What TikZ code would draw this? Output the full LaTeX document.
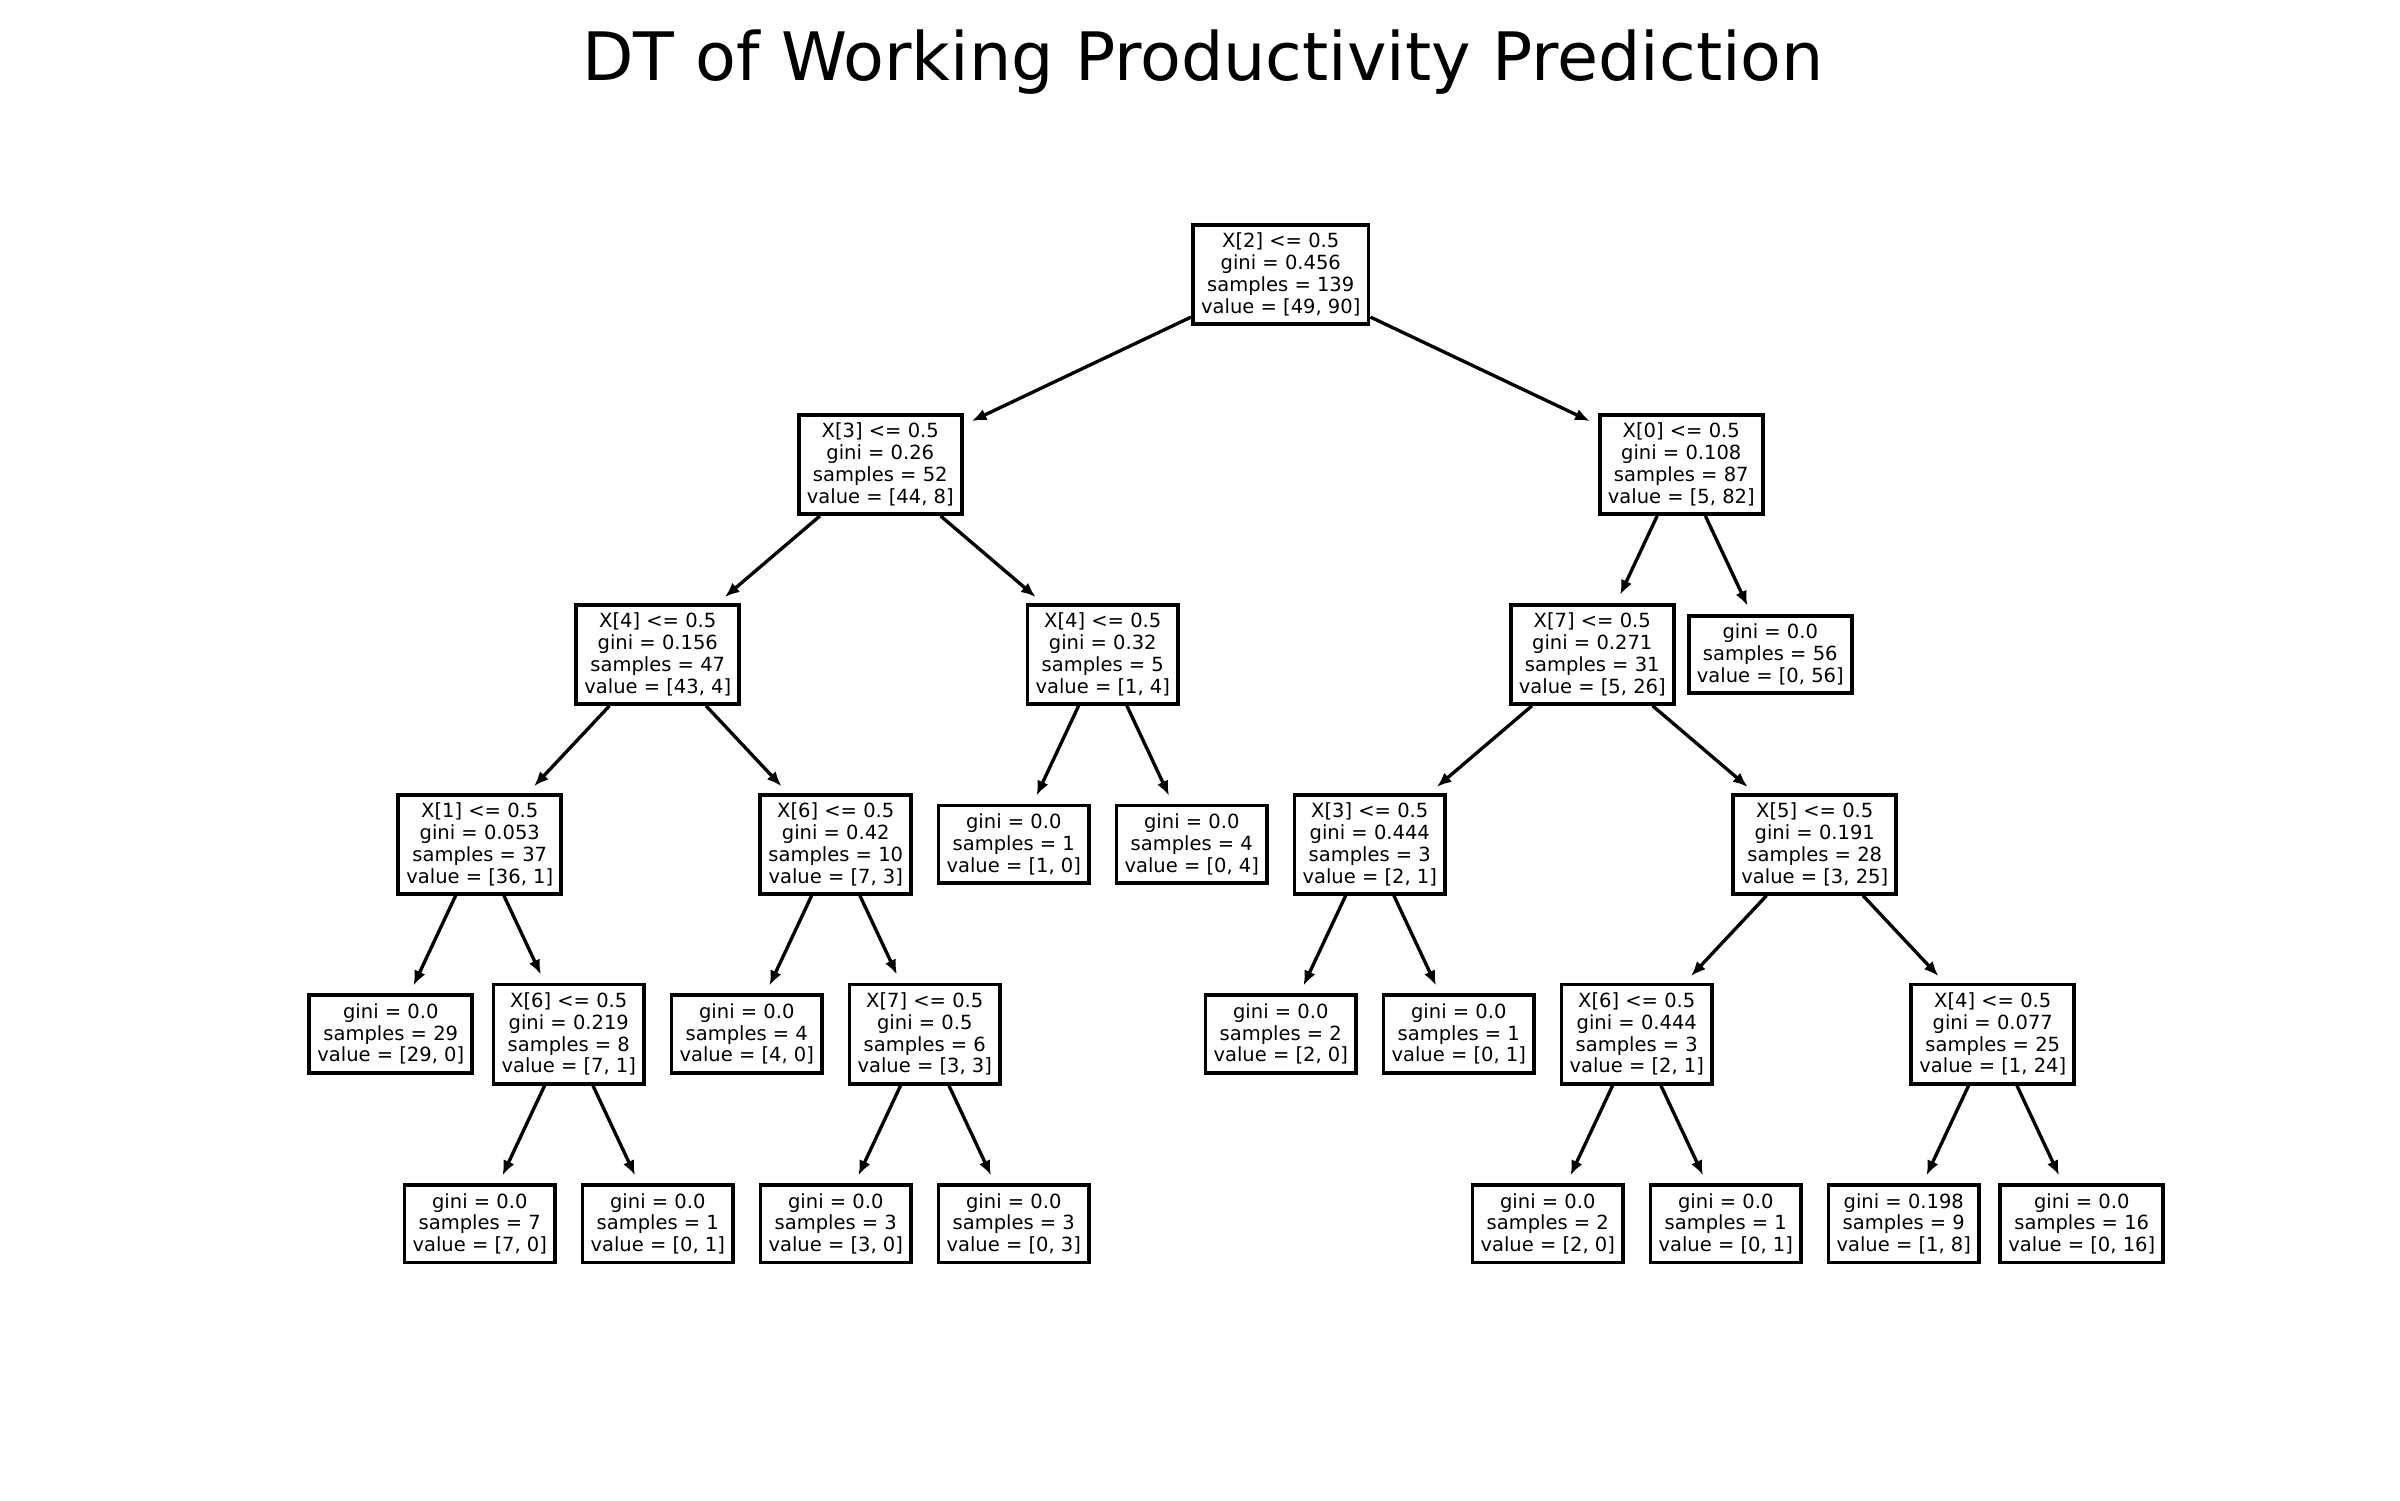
\documentclass[tikz,border=0pt]{standalone}
\usepackage{fontspec}
\setmainfont{DejaVu Sans}
\usetikzlibrary{arrows.meta}
\tikzset{
x=0.89cm, y=-1.8985cm, % one x step is a grid slot, one y step is a tree level
dtnode/.style={draw, line width=1.1pt, fill=white, align=center, inner sep=2.3pt,
  font=\fontsize{5.55}{6.22}\selectfont}, % every box of the tree
link/.style={-{Latex[length=4.2pt,width=3.4pt]}, line width=0.95pt, shorten >=2.5pt}, % parent to child
}

\begin{document}
\begin{tikzpicture}
                \useasboundingbox (-4.3907,-1.4465) rectangle (22.576,6.4546);
                \node[anchor=base, font=\fontsize{19}{22}\selectfont] (title) at (9.127,-1.025) {DT of Working Productivity Prediction};
                % level 0 and 1
                \node[dtnode] (n0) at (10,0) {X[2] <= 0.5\\gini = 0.456\\samples = 139\\value = [49, 90]};
                \node[dtnode] (n1) at (5.5,1) {X[3] <= 0.5\\gini = 0.26\\samples = 52\\value = [44, 8]};
                \node[dtnode] (n16) at (14.5,1) {X[0] <= 0.5\\gini = 0.108\\samples = 87\\value = [5, 82]};
                % level 2
                \node[dtnode] (n2) at (3,2) {X[4] <= 0.5\\gini = 0.156\\samples = 47\\value = [43, 4]};
                \node[dtnode] (n13) at (8,2) {X[4] <= 0.5\\gini = 0.32\\samples = 5\\value = [1, 4]};
                \node[dtnode] (n17) at (13.5,2) {X[7] <= 0.5\\gini = 0.271\\samples = 31\\value = [5, 26]};
                \node[dtnode] (n28) at (15.5,2) {gini = 0.0\\samples = 56\\value = [0, 56]};
                % level 3
                \node[dtnode] (n3) at (1,3) {X[1] <= 0.5\\gini = 0.053\\samples = 37\\value = [36, 1]};
                \node[dtnode] (n8) at (5,3) {X[6] <= 0.5\\gini = 0.42\\samples = 10\\value = [7, 3]};
                \node[dtnode] (n14) at (7,3) {gini = 0.0\\samples = 1\\value = [1, 0]};
                \node[dtnode] (n15) at (9,3) {gini = 0.0\\samples = 4\\value = [0, 4]};
                \node[dtnode] (n18) at (11,3) {X[3] <= 0.5\\gini = 0.444\\samples = 3\\value = [2, 1]};
                \node[dtnode] (n21) at (16,3) {X[5] <= 0.5\\gini = 0.191\\samples = 28\\value = [3, 25]};
                % level 4
                \node[dtnode] (n4) at (0,4) {gini = 0.0\\samples = 29\\value = [29, 0]};
                \node[dtnode] (n5) at (2,4) {X[6] <= 0.5\\gini = 0.219\\samples = 8\\value = [7, 1]};
                \node[dtnode] (n9) at (4,4) {gini = 0.0\\samples = 4\\value = [4, 0]};
                \node[dtnode] (n10) at (6,4) {X[7] <= 0.5\\gini = 0.5\\samples = 6\\value = [3, 3]};
                \node[dtnode] (n19) at (10,4) {gini = 0.0\\samples = 2\\value = [2, 0]};
                \node[dtnode] (n20) at (12,4) {gini = 0.0\\samples = 1\\value = [0, 1]};
                \node[dtnode] (n22) at (14,4) {X[6] <= 0.5\\gini = 0.444\\samples = 3\\value = [2, 1]};
                \node[dtnode] (n25) at (18,4) {X[4] <= 0.5\\gini = 0.077\\samples = 25\\value = [1, 24]};
                % level 5
                \node[dtnode] (n6) at (1,5) {gini = 0.0\\samples = 7\\value = [7, 0]};
                \node[dtnode] (n7) at (3,5) {gini = 0.0\\samples = 1\\value = [0, 1]};
                \node[dtnode] (n11) at (5,5) {gini = 0.0\\samples = 3\\value = [3, 0]};
                \node[dtnode] (n12) at (7,5) {gini = 0.0\\samples = 3\\value = [0, 3]};
                \node[dtnode] (n23) at (13,5) {gini = 0.0\\samples = 2\\value = [2, 0]};
                \node[dtnode] (n24) at (15,5) {gini = 0.0\\samples = 1\\value = [0, 1]};
                \node[dtnode] (n26) at (17,5) {gini = 0.198\\samples = 9\\value = [1, 8]};
                \node[dtnode] (n27) at (19,5) {gini = 0.0\\samples = 16\\value = [0, 16]};
                \draw
                    (n0) edge[link] (n1)
                    (n0) edge[link] (n16)
                    (n1) edge[link] (n2)
                    (n1) edge[link] (n13)
                    (n2) edge[link] (n3)
                    (n2) edge[link] (n8)
                    (n3) edge[link] (n4)
                    (n3) edge[link] (n5)
                    (n5) edge[link] (n6)
                    (n5) edge[link] (n7)
                    (n8) edge[link] (n9)
                    (n8) edge[link] (n10)
                    (n10) edge[link] (n11)
                    (n10) edge[link] (n12)
                    (n13) edge[link] (n14)
                    (n13) edge[link] (n15)
                    (n16) edge[link] (n17)
                    (n16) edge[link] (n28)
                    (n17) edge[link] (n18)
                    (n17) edge[link] (n21)
                    (n18) edge[link] (n19)
                    (n18) edge[link] (n20)
                    (n21) edge[link] (n22)
                    (n21) edge[link] (n25)
                    (n22) edge[link] (n23)
                    (n22) edge[link] (n24)
                    (n25) edge[link] (n26)
                    (n25) edge[link] (n27)
                    ;
\end{tikzpicture}
\end{document}
